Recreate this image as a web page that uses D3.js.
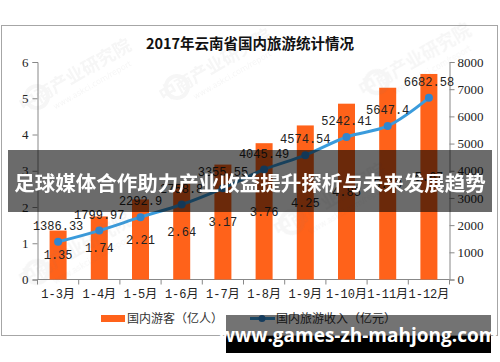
<!DOCTYPE html>
<html lang="zh">
<head>
<meta charset="UTF-8" />
<title>2017年云南省国内旅游统计情况</title>
<script src="https://d3js.org/d3.v7.min.js"></script>
<style>
  body { margin: 0; background: #fff; }
  svg { display: block; }
</style>
</head>
<body>
<svg id="chart" width="500" height="362"></svg>
<script>
const months = ['1-3月', '1-4月', '1-5月', '1-6月', '1-7月', '1-8月', '1-9月', '1-10月', '1-11月', '1-12月']
const visitors = [1.35, 1.74, 2.21, 2.64, 3.17, 3.76, 4.25, 4.85, 5.29, 5.67]
const revenue = [1386.33, 1799.97, 2292.9, 2758.8, 3355.55, 4045.49, 4574.54, 5242.41, 5647.4, 6682.58]
const leftTicks = [0, 1, 2, 3, 4, 5, 6]
const rightTicks = [0, 1000, 2000, 3000, 4000, 5000, 6000, 7000, 8000]

const numFont = '"Liberation Mono", "Noto Sans CJK SC", monospace'
const axisFont = '"Liberation Serif", serif'
const cjk = '"Noto Sans CJK SC", sans-serif'

const svg = d3.select('#chart')

// chart frame
svg.append('rect')
  .attr('x', 1.5).attr('y', 25.5).attr('width', 496).attr('height', 310)
  .attr('fill', '#fff').attr('stroke', '#a6a6a6')

svg.append('text')
  .attr('x', 250).attr('y', 44).attr('dy', '0.35em')
  .attr('text-anchor', 'middle')
  .style('font-family', cjk).style('font-size', '14.5px').style('font-weight', 700)
  .attr('fill', '#111')
  .text('2017年云南省国内旅游统计情况')

const x = d3.scaleBand().domain(months).range([37.5, 449.5])
const yL = d3.scaleLinear().domain([0, 6]).range([279.5, 62])
const yR = d3.scaleLinear().domain([0, 8000]).range([279.5, 62])

// axes
const gl = svg.append('g').attr('transform', 'translate(37.5,0)')
  .call(d3.axisLeft(yL).tickValues(leftTicks).tickFormat(d3.format('d')).tickSize(5).tickPadding(4))
const gr = svg.append('g').attr('transform', 'translate(449.5,0)')
  .call(d3.axisRight(yR).tickValues(rightTicks).tickFormat(d3.format('d')).tickSize(5).tickPadding(3))
const gb = svg.append('g').attr('transform', 'translate(0,279.5)')
  .call(d3.axisBottom(x).tickSize(0).tickPadding(10))
gb.selectAll('.tick').append('line')
  .attr('x1', -x.step() / 2).attr('x2', -x.step() / 2).attr('y2', 5)
gb.append('line')
  .attr('x1', 449.5).attr('x2', 449.5).attr('y2', 5)

;[gl, gr, gb].forEach(g => {
  g.selectAll('path.domain').attr('stroke', '#888')
  g.selectAll('line').attr('stroke', '#888')
  g.selectAll('text').attr('fill', '#222')
})
gl.selectAll('text').style('font-family', axisFont).style('font-size', '13px')
gr.selectAll('text').style('font-family', axisFont).style('font-size', '13px')
gb.selectAll('text').style('font-family', numFont).style('font-size', '12px')
gb.selectAll('path.domain').remove()
gb.append('line').attr('x1', 37.5).attr('x2', 449.5).attr('stroke', '#888')

// bars
const bw = 17
svg.append('g').selectAll('rect')
  .data(visitors).join('rect')
  .attr('x', (d, i) => x(months[i]) + x.bandwidth() / 2 - bw / 2)
  .attr('y', d => yL(d))
  .attr('width', bw)
  .attr('height', d => yL(0) - yL(d))
  .attr('fill', '#ff621a')

// revenue line
const cx = i => x(months[i]) + x.bandwidth() / 2
const line = d3.line()
  .x((d, i) => cx(i))
  .y(d => yR(d))
  .curve(d3.curveCatmullRom.alpha(0.5))
svg.append('path').datum(revenue)
  .attr('d', line).attr('fill', 'none')
  .attr('stroke', '#3a9bdc').attr('stroke-width', 3)
svg.append('g').selectAll('circle')
  .data(revenue).join('circle')
  .attr('cx', (d, i) => cx(i)).attr('cy', d => yR(d))
  .attr('r', 4).attr('fill', '#2f86cf')

// labels
svg.append('g').selectAll('text')
  .data(visitors).join('text')
  .attr('x', (d, i) => cx(i)).attr('y', d => (yL(d) + yL(0)) / 2)
  .attr('dy', '0.35em').attr('text-anchor', 'middle')
  .style('font-family', numFont).style('font-size', '12px')
  .attr('fill', '#222')
  .text(d => d.toFixed(2))
svg.append('g').selectAll('text')
  .data(revenue).join('text')
  .attr('x', (d, i) => cx(i)).attr('y', d => yR(d) - 16)
  .attr('dy', '0.35em').attr('text-anchor', 'middle')
  .style('font-family', numFont).style('font-size', '12px')
  .attr('fill', '#222')
  .text(d => d)

// legend
const lg = svg.append('g').style('font-family', cjk).style('font-size', '12px')
lg.append('rect').attr('x', 101).attr('y', 315).attr('width', 24).attr('height', 7).attr('fill', '#ff621a')
lg.append('text').attr('x', 127).attr('y', 318.5).attr('dy', '0.35em').attr('fill', '#333').text('国内游客（亿人）')
lg.append('line').attr('x1', 250).attr('x2', 275).attr('y1', 318.5).attr('y2', 318.5)
  .attr('stroke', '#3a9bdc').attr('stroke-width', 3)
lg.append('circle').attr('cx', 262).attr('cy', 318.5).attr('r', 3.5).attr('fill', '#2f86cf')
lg.append('text').attr('x', 276).attr('y', 318.5).attr('dy', '0.35em').attr('fill', '#333').text('国内旅游收入（亿元）')

// faint watermarks
const marks = [[75, 75], [215, 65], [415, 60], [75, 250], [330, 200]]
const wm = svg.append('g').attr('opacity', 0.07).attr('fill', '#777')
marks.forEach(([mx, my]) => {
  const g = wm.append('g').attr('transform', `translate(${mx},${my}) rotate(-30)`)
  g.append('circle').attr('cx', -44).attr('cy', 0).attr('r', 11).attr('fill', 'none').attr('stroke', '#777').attr('stroke-width', 4)
  g.append('text').attr('x', 0).attr('y', 0).attr('dy', '0.35em').attr('text-anchor', 'middle')
    .style('font-family', cjk).style('font-size', '18px').style('font-weight', 700).text('中商产业研究院')
  g.append('text').attr('x', 10).attr('y', 20).attr('text-anchor', 'middle')
    .style('font-family', '"DejaVu Sans", sans-serif').style('font-size', '8px').text('www.askci.com/report')
})

// overlay banners
svg.append('rect').attr('x', 8).attr('y', 150).attr('width', 484).attr('height', 62)
  .attr('fill', '#000').attr('opacity', 0.58)
svg.append('text')
  .attr('x', 250).attr('y', 183.5).attr('dy', '0.35em').attr('text-anchor', 'middle')
  .style('font-family', cjk).style('font-size', '20.5px').style('font-weight', 700)
  .attr('fill', '#fff')
  .text('足球媒体合作助力产业收益提升探析与未来发展趋势')

svg.append('rect').attr('x', 226).attr('y', 315).attr('width', 265).attr('height', 21)
  .attr('fill', '#000').attr('opacity', 0.55)
svg.append('rect').attr('x', 226).attr('y', 336).attr('width', 265).attr('height', 17)
  .attr('fill', '#000')
svg.append('text')
  .attr('x', 358).attr('y', 342)
  .attr('text-anchor', 'middle')
  .style('font-family', '"Open Sans", "Noto Sans", sans-serif').style('font-size', '19px').style('font-weight', 700)
  .attr('fill', '#fff')
  .text('www.games-zh-mahjong.com')
</script>
</body>
</html>
